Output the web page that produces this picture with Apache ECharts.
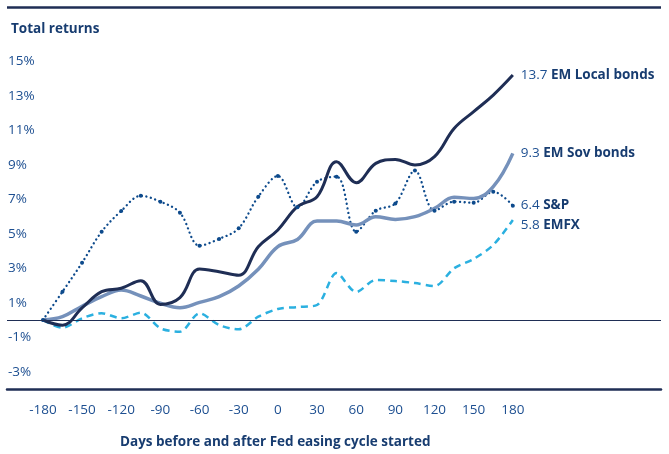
<!DOCTYPE html>
<html>
<head>
<meta charset="utf-8">
<script src="https://cdn.jsdelivr.net/npm/echarts@6/dist/echarts.min.js"></script>
<style>html,body{margin:0;padding:0;background:#fff}#c{width:669px;height:454px}</style>
</head>
<body>
<div id="c"></div>
<script>
var days = [-180,-165,-150,-135,-120,-105,-90,-75,-60,-45,-30,-15,0,15,30,45,60,75,90,105,120,135,150,165,180];
var xTicks = [-180,-150,-120,-90,-60,-30,0,30,60,90,120,150,180];
var names = ['EM Local bonds','EM Sov bonds','S&P','EMFX'];
var endValues = ['13.7','9.3','6.4','5.8'];
var emLocal = [0,-0.3,0.7,1.64,1.84,2.28,0.9,1.3,2.95,2.8,2.6,4.25,5.22,6.57,7.15,9.18,7.96,9.08,9.31,8.99,9.47,11.1,12.08,13.04,14.2];
var emSov = [0,0.2,0.8,1.35,1.74,1.39,0.97,0.71,1.02,1.35,1.97,2.94,4.25,4.67,5.74,5.74,5.51,5.99,5.83,5.99,6.47,7.11,7.05,7.73,9.66];
var sp = [0,1.64,3.32,5.12,6.32,7.2,6.86,6.22,4.31,4.7,5.32,7.15,8.35,6.53,8.02,8.31,5.12,6.34,6.76,8.66,6.34,6.86,6.8,7.44,6.63];
var emfx = [0,-0.45,0.1,0.39,0.1,0.42,-0.48,-0.68,0.39,-0.29,-0.54,0.19,0.64,0.75,0.87,2.72,1.62,2.32,2.26,2.14,1.97,3.0,3.54,4.35,5.8];

function pairs(vals){ return days.map(function(d,i){ return [d, vals[i]]; }); }
var FONT = 'Open Sans';
var FS = 13.5;
var navy = '#1f2e55';
var labelBlue = '#1d4f91';
var titleBlue = '#173c70';

function endLabel(i, offset){
  return {
    show: true,
    distance: 8,
    offset: offset || [0,0],
    formatter: function(){ return '{v|' + endValues[i] + '} {n|' + names[i] + '}'; },
    rich: {
      v: {fontFamily: FONT, fontSize: FS, color: labelBlue, fontWeight: 'normal'},
      n: {fontFamily: FONT, fontSize: FS, color: titleBlue, fontWeight: 'bold'}
    }
  };
}

var chart = echarts.init(document.getElementById('c'));
chart.setOption({
  animation: false,
  backgroundColor: '#fff',
  title: [
    {text: 'Total returns', left: 6, top: 17, textStyle: {fontFamily: FONT, fontSize: FS, fontWeight: 'bold', color: titleBlue}},
    {text: 'Days before and after Fed easing cycle started', left: 115, top: 430, textStyle: {fontFamily: FONT, fontSize: FS, fontWeight: 'bold', color: titleBlue}}
  ],
  graphic: [
    {type: 'line', shape: {x1: 7, y1: 7.5, x2: 661, y2: 7.5}, style: {stroke: navy, lineWidth: 2.5}}
  ],
  grid: {left: 7, right: 8, top: 44, bottom: 65, containLabel: false},
  xAxis: {
    type: 'value', min: -207.5, max: 293.5,
    splitLine: {show: false},
    axisTick: {show: false},
    axisLine: {onZero: false, lineStyle: {color: navy, width: 2.5}},
    axisLabel: {customValues: xTicks, margin: 14, fontFamily: FONT, fontSize: FS, color: labelBlue}
  },
  yAxis: {
    type: 'value', min: -4, max: 16, interval: 1,
    splitLine: {show: false},
    axisTick: {show: false},
    axisLine: {show: false},
    axisLabel: {inside: true, margin: 1, fontFamily: FONT, fontSize: FS, color: labelBlue,
      formatter: function(v){ return (Math.abs(v) % 2 === 1) ? v + '%' : ''; }}
  },
  series: [
    {name: names[3], type: 'line', data: pairs(emfx), smooth: 0.3, showSymbol: false,
      lineStyle: {color: '#2bb0e0', width: 2.5, type: [7,5]}, itemStyle: {color: '#2bb0e0'},
      endLabel: endLabel(3, [0,5]),
      markLine: {silent: true, symbol: ['none','none'], label: {show: false},
        lineStyle: {color: navy, width: 1, type: 'solid'}, data: [{yAxis: 0}]}},
    {name: names[2], type: 'line', data: pairs(sp), smooth: 0.35, showSymbol: true, symbol: 'circle', symbolSize: 4,
      lineStyle: {color: '#0d4a8c', width: 2.3, type: [0.1,4.5], cap: 'round'}, itemStyle: {color: '#0d4a8c'},
      endLabel: endLabel(2)},
    {name: names[1], type: 'line', data: pairs(emSov), smooth: 0.4, showSymbol: false,
      lineStyle: {color: '#7591bb', width: 3.5}, itemStyle: {color: '#7591bb'},
      endLabel: endLabel(1)},
    {name: names[0], type: 'line', data: pairs(emLocal), smooth: 0.4, showSymbol: false,
      lineStyle: {color: navy, width: 3}, itemStyle: {color: navy},
      endLabel: endLabel(0)}
  ]
});
</script>
</body>
</html>
